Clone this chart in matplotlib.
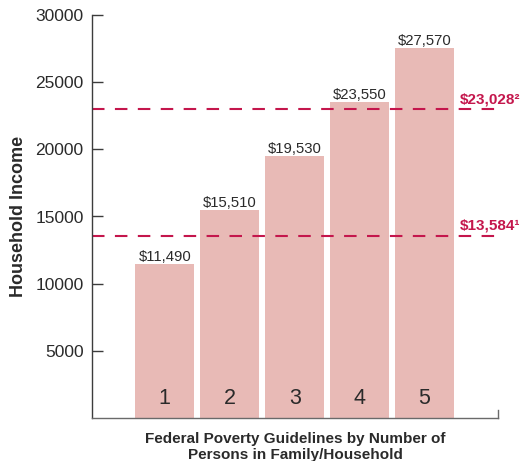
import matplotlib.pyplot as plt

plt.rcParams['font.family'] = ['Liberation Sans', 'DejaVu Sans']

persons = [1, 2, 3, 4, 5]
income = [11490, 15510, 19530, 23550, 27570]
value_labels = ['$11,490', '$15,510', '$19,530', '$23,550', '$27,570']
ref_values = [13584, 23028]
ref_labels = ['$13,584\u00b9', '$23,028\u00b2']

bar_color = '#e8bab6'
line_color = '#c4164c'
text_color = '#2a2a2a'

fig = plt.figure(figsize=(5.22, 4.61), dpi=100)
ax = fig.add_axes([92 / 522, 43 / 461, 406 / 522, 403 / 461])

ax.bar(persons, income, width=0.91, color=bar_color, zorder=1)

for x, v, lab in zip(persons, income, value_labels):
    ax.text(x, v + 230, lab, ha='center', va='baseline', fontsize=10.7, color=text_color)
    ax.text(x, 1040, str(x), ha='center', va='baseline', fontsize=15.5, color=text_color)

for v, lab in zip(ref_values, ref_labels):
    ax.axhline(v, color=line_color, lw=1.5, dashes=(6, 5), xmax=1.005, clip_on=False, zorder=2)
    ax.text(5.55, v + 420, lab, ha='left', va='baseline', fontsize=11, fontweight='bold',
            color=line_color)

ax.set_xlim(-0.12, 6.13)
ax.set_ylim(0, 30000)
ax.set_yticks([5000, 10000, 15000, 20000, 25000, 30000])
ax.set_xticks([])
ax.tick_params(axis='y', direction='in', length=8, width=1, colors='#3c3c3c',
               labelsize=12.5, labelcolor=text_color, pad=6)

for s in ['top', 'right']:
    ax.spines[s].set_visible(False)
ax.spines['left'].set_color('#3c3c3c')
ax.spines['bottom'].set_color('#6a6a6a')
for s in ['left', 'bottom']:
    ax.spines[s].set_linewidth(1)
# small upward tick at the right end of the x axis
ax.plot([6.13, 6.13], [0, 600], color='#6a6a6a', lw=1, clip_on=False)

ax.set_ylabel('Household Income', fontsize=13, fontweight='bold', color=text_color, labelpad=6)
ax.set_xlabel('Federal Poverty Guidelines by Number of\nPersons in Family/Household',
              fontsize=11, fontweight='bold', color=text_color, labelpad=10, linespacing=1.2)

fig.savefig('out.png', dpi=100)
